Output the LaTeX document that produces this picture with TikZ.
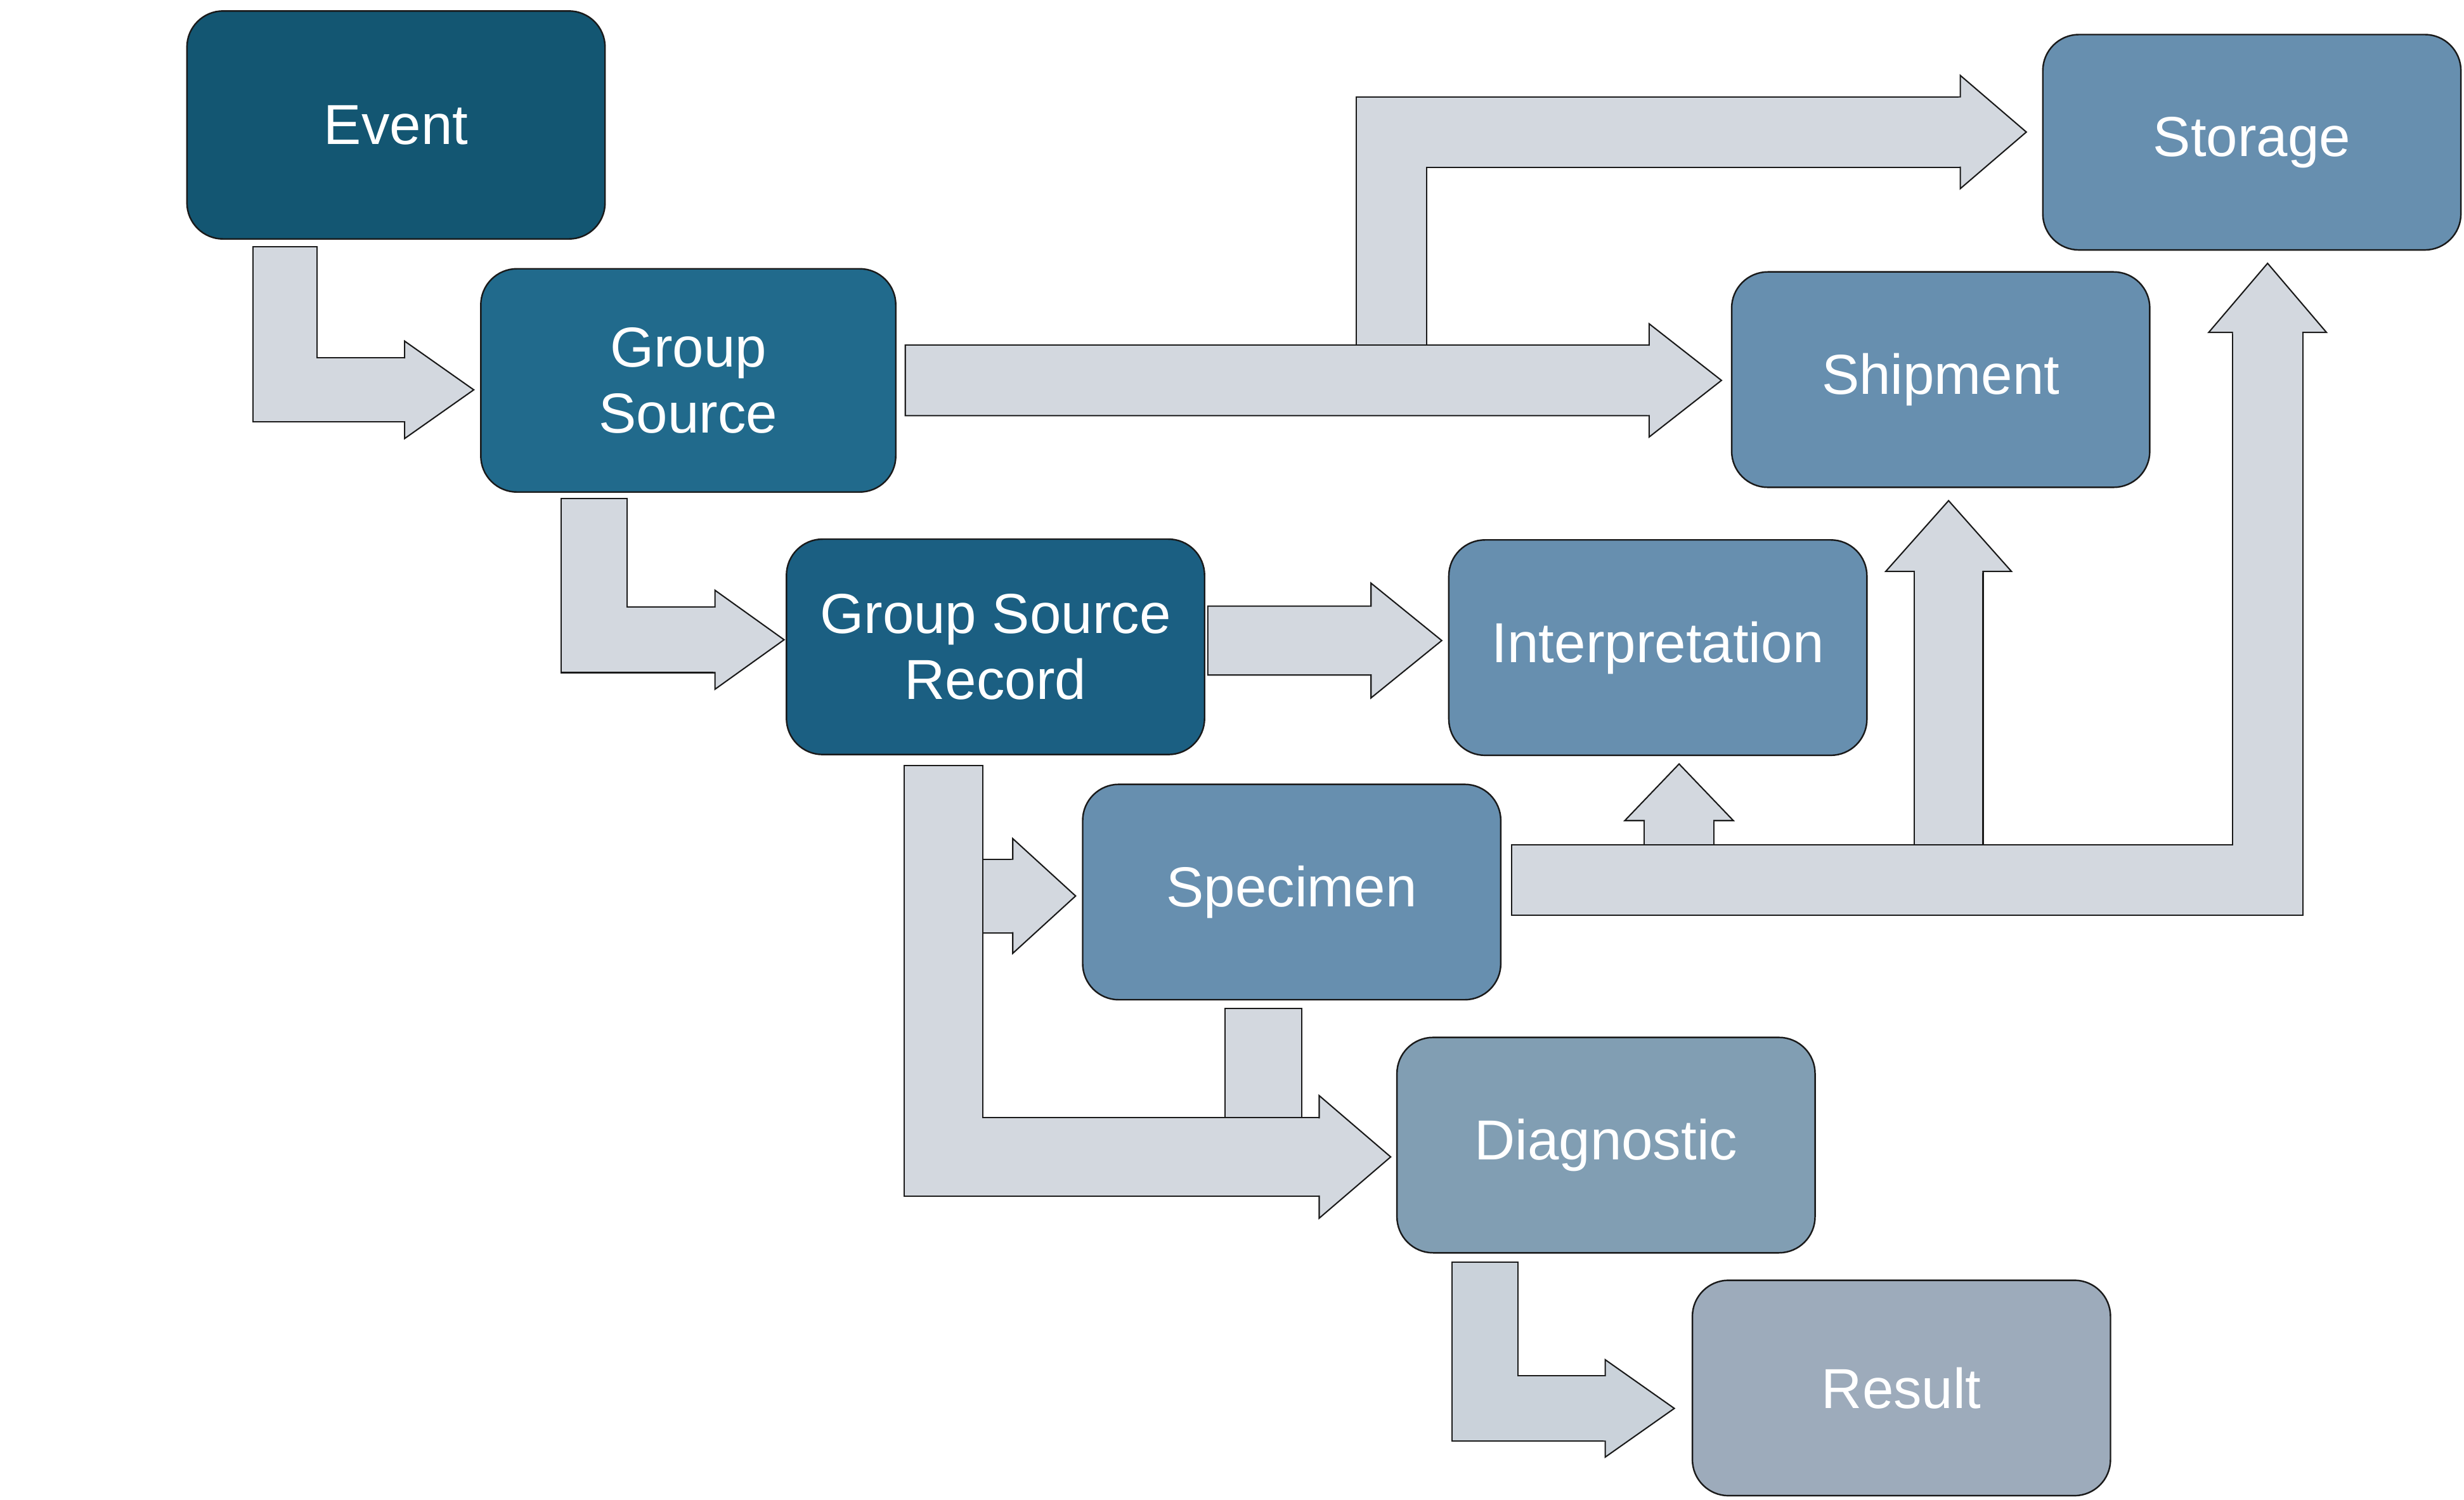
\documentclass[tikz,border=0pt]{standalone}
\usepackage{fontspec}
\setmainfont{Liberation Sans}
\usetikzlibrary{calc}
\definecolor{evblue}{HTML}{135672}
\definecolor{gsblue}{HTML}{216A8C}
\definecolor{gsrblue}{HTML}{1B5F82}
\definecolor{midblue}{HTML}{678FAF}
\definecolor{dgblue}{HTML}{819EB3}
\definecolor{rsblue}{HTML}{9DABBB}
\definecolor{arfill}{HTML}{D3D8DF}
\definecolor{arfilltwo}{HTML}{CAD2DA}
\definecolor{lncol}{HTML}{1A1A1A}
\newcommand{\px}{0.025cm}
\tikzset{
  pics/bhead/.style n args={4}{code={
    \fill[#4] (-1,-#3) -- (0,-#3) -- (0,-#1) -- (#2,0) -- (0,#1) -- (0,#3) -- (-1,#3) -- cycle;
    \draw[lncol,line width=0.6pt] (0,-#3) -- (0,-#1) -- (#2,0) -- (0,#1) -- (0,#3);
  }},
}

\begin{document}
\begin{tikzpicture}[
  x=\px, y=-\px,
  box/.style={draw=lncol,line width=0.7pt,rounded corners=0.575cm,fill=#1,
    minimum width=6.65cm,minimum height=3.425cm,inner sep=2pt,align=center,
    text=white,font=\fontsize{25.5}{30}\selectfont},
  shaft/.style={draw=arfill,line width=#1*\px,
    preaction={draw=lncol,line width=#1*\px+1.2pt,shorten <=-0.6pt}},
]
  \useasboundingbox (0,0) rectangle (1568,954);

  % Boxes
  \node[box=evblue,minimum height=3.625cm] (ev) at (252,79.5) {Event};
  \node[box=gsblue,minimum width=6.6cm,minimum height=3.55cm] (gs) at (438,242) {Group\\Source};
  \node[box=gsrblue] (gsr) at (633.5,411.5) {Group Source\\Record};
  \node[box=midblue] (in) at (1055,412) {Interpretation};
  \node[box=midblue] (st) at (1433,90.5) {Storage};
  \node[box=midblue] (sh) at (1235,241.5) {Shipment};
  \node[box=midblue] (sp) at (822,567.5) {Specimen};
  \node[box=dgblue] (dg) at (1022,728.5) {Diagnostic};
  \node[box=rsblue] (rs) at (1210,883) {Result};

  % Event -> Group Source
  \draw[shaft=40] ($(ev.south west)+(63,5)$) |- ($(gs.west)+(-48,6)$);
  \pic at ($(gs.west)+(-48,6)$) {bhead={31}{44}{20}{arfill}};

  % Group Source -> Storage, Shipment
  \draw[shaft=44] ($(gs.east)+(315,-22)$) |- ($(st.west)+(-52,-6.5)$);
  \draw[shaft=44] ($(gs.east)+(6,0)$) -- ($(sh.west)+(-52,0.5)$);
  \pic at ($(sh.west)+(-52,0.5)$) {bhead={36}{46}{22}{arfill}};
  \pic at ($(st.west)+(-52,-6.5)$) {bhead={36}{42}{22}{arfill}};

  % Group Source -> Group Source Record
  \draw[shaft=41] ($(gs.south west)+(72.5,4)$) |- ($(gsr.west)+(-45,-4.5)$);
  \pic at ($(gsr.west)+(-45,-4.5)$) {bhead={31.5}{44}{20.5}{arfill}};

  % Group Source Record -> Interpretation
  \draw[shaft=43] ($(gsr.east)+(2,-4)$) -- ($(in.west)+(-49,-4.5)$);
  \pic at ($(in.west)+(-49,-4.5)$) {bhead={36.5}{45}{21.5}{arfill}};

  % Group Source Record -> Specimen, Diagnostic
  \draw[shaft=46] ($(sp.west)+(-64,2.5)$) -- ($(sp.west)+(-44,2.5)$);
  \draw[shaft=48] ($(sp.south)+(-18,5.5)$) -- ($(sp.south)+(-18,75.5)$);
  \draw[shaft=49] ($(gsr.south west)+(100.5,7)$) |- ($(dg.west)+(-49,7.5)$);
  \pic at ($(dg.west)+(-49,7.5)$) {bhead={39}{45.5}{24.5}{arfill}};
  \pic at ($(sp.west)+(-44,2.5)$) {bhead={36.5}{40}{23}{arfill}};

  % Specimen -> Interpretation, Shipment, Storage
  \draw[shaft=43.5] ($(in.south)+(13.5,57)$) -- ($(in.south)+(13.5,41)$);
  \draw[shaft=43] ($(sh.south)+(5,228)$) -- ($(sh.south)+(5,53)$);
  \draw[shaft=44] ($(sp.east)+(7,-7.5)$) -| ($(st.south)+(10,52)$);
  \pic[rotate=90] at ($(st.south)+(10,52)$) {bhead={37.5}{44}{22}{arfill}};
  \pic[rotate=90] at ($(sh.south)+(5,53)$) {bhead={40}{45}{21.5}{arfill}};
  \pic[rotate=90] at ($(in.south)+(13.5,41)$) {bhead={34.5}{36}{21.75}{arfill}};

  % Diagnostic -> Result
  \draw[shaft=41,draw=arfilltwo] ($(dg.south west)+(56.5,6)$) |- ($(rs.west)+(-55,13)$);
  \pic at ($(rs.west)+(-55,13)$) {bhead={31}{44}{20.5}{arfilltwo}};
\end{tikzpicture}
\end{document}
